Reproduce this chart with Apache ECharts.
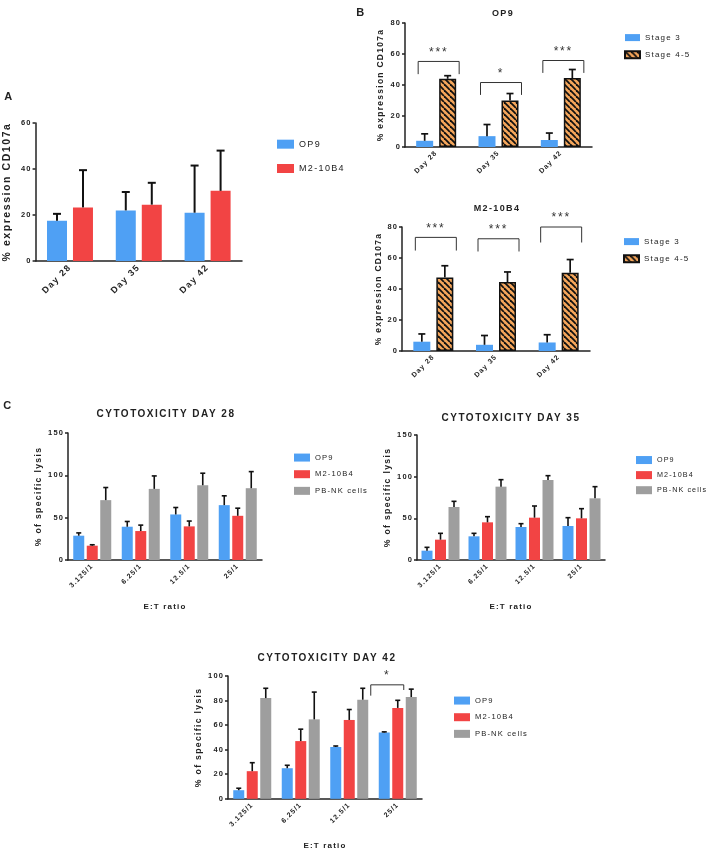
<!DOCTYPE html>
<html>
<head>
<meta charset="utf-8">
<script src="https://cdn.jsdelivr.net/npm/echarts@6/dist/echarts.min.js"></script>
<style>
  html, body { margin: 0; padding: 0; background: #fff; }
  #chart { width: 708px; height: 851px; }
</style>
</head>
<body>
<div id="chart"></div>
<script>
// --- data ---
const days = ['Day 28', 'Day 35', 'Day 42'];
const ratios = ['3.125/1', '6.25/1', '12.5/1', '25/1'];

// A: % expression CD107a
const aOp9 = [17.5, 22, 21];
const aOp9Err = [20.5, 30, 41.5];
const aM2 = [23.3, 24.5, 30.5];
const aM2Err = [39.5, 34, 48];

// B: OP9
const bOp9S3 = [4, 7, 4.5];
const bOp9S3Err = [8.5, 14.5, 9];
const bOp9S45 = [44, 30, 44.5];
const bOp9S45Err = [46, 34.5, 50];
const bOp9Sig = [[0, 55.2, 47, 47, '***'], [1, 41.6, 33.6, 33.6, '*'], [2, 55.8, 47.8, 47.8, '***']];

// B: M2-10B4
const bM2S3 = [6, 4, 5.5];
const bM2S3Err = [11, 10, 10.5];
const bM2S45 = [47.5, 44.5, 50.5];
const bM2S45Err = [55, 51, 59];
const bM2Sig = [[0, 73.3, 64.8, 64.8, '***'], [1, 72.4, 64.2, 64.2, '***'], [2, 80, 70, 70, '***']];

// C: cytotoxicity day 28
const c28Op9 = [28.7, 39.3, 53.8, 64.8];
const c28Op9Err = [32, 45.5, 62, 75.8];
const c28M2 = [16.9, 34.2, 39.7, 52.2];
const c28M2Err = [18, 41.2, 46, 61.2];
const c28Nk = [70.7, 84, 88.3, 84.8];
const c28NkErr = [85.6, 99.3, 102.5, 104.4];

// C: cytotoxicity day 35
const c35Op9 = [11.2, 28.4, 39.6, 40.8];
const c35Op9Err = [15.2, 32, 43.6, 50.8];
const c35M2 = [24.4, 45.2, 50.8, 50];
const c35M2Err = [32, 52, 64.8, 61.6];
const c35Nk = [63.6, 88, 96, 74];
const c35NkErr = [70.4, 96.4, 101.2, 88];

// C: cytotoxicity day 42
const c42Op9 = [7, 24.9, 42.2, 54];
const c42Op9Err = [8.6, 27.3, 43, 54.5];
const c42M2 = [22.5, 47, 64.2, 74];
const c42M2Err = [29.4, 56.7, 72.7, 80.2];
const c42Nk = [82, 64.7, 80.7, 82.9];
const c42NkErr = [90, 86.9, 90, 89.3];
const c42Sig = [[3, 92.8, 84, 88.6, '*']];

// --- Prism-like letter spacing on every canvas text ---
const fontProp = Object.getOwnPropertyDescriptor(CanvasRenderingContext2D.prototype, 'font');
Object.defineProperty(CanvasRenderingContext2D.prototype, 'font', {
  configurable: true,
  get() { return fontProp.get.call(this); },
  set(v) {
    fontProp.set.call(this, v);
    const m = /([\d.]+)px/.exec(v);
    if ('letterSpacing' in this) this.letterSpacing = m ? (parseFloat(m[1]) * 0.15).toFixed(2) + 'px' : '0px';
  }
});

const FONT = "'Liberation Sans', Arial, sans-serif";
const INK = '#222';
const BLUE = '#4FA0F4';
const RED = '#F24444';
const GRAY = '#9E9E9E';

// orange with black diagonal stripes
const hatch = document.createElement('canvas');
hatch.width = 6; hatch.height = 6;
(function () {
  const ctx = hatch.getContext('2d');
  ctx.fillStyle = '#F5A65B';
  ctx.fillRect(0, 0, 6, 6);
  ctx.strokeStyle = '#111';
  ctx.lineWidth = 1.8;
  for (const k of [-6, 0, 6]) {
    ctx.beginPath(); ctx.moveTo(k, 0); ctx.lineTo(k + 6, 6); ctx.stroke();
  }
})();
const HATCH = { image: hatch, repeat: 'repeat' };

const grids = [
  { left: 33, top: 123, width: 209, height: 138 },   // A
  { left: 405, top: 23, width: 187, height: 124 },   // B OP9
  { left: 402, top: 227, width: 188, height: 124 },  // B M2-10B4
  { left: 68, top: 433, width: 194, height: 127 },   // C day 28
  { left: 417, top: 435, width: 188, height: 125 },  // C day 35
  { left: 228, top: 676, width: 194, height: 125 }   // C day 42
];

function xAxis(gridIndex, data, fontSize, name) {
  return {
    type: 'category', gridIndex, data,
    axisLine: { lineStyle: { color: INK, width: 1.5 } },
    axisTick: { alignWithLabel: true, length: 3, lineStyle: { color: INK, width: 1.5 } },
    axisLabel: { rotate: 45, fontSize, fontWeight: 'bold', color: INK, margin: 5, fontFamily: FONT },
    name: name || '', nameLocation: 'middle', nameGap: 42,
    nameTextStyle: { fontSize: 8, fontWeight: 'bold', color: INK, fontFamily: FONT }
  };
}

function yAxis(gridIndex, max, interval, name, nameSize, nameGap) {
  return {
    type: 'value', gridIndex, min: 0, max, interval,
    axisLine: { show: true, lineStyle: { color: INK, width: 1.5 } },
    axisTick: { show: true, length: 3, lineStyle: { color: INK, width: 1.5 } },
    splitLine: { show: false },
    axisLabel: { fontSize: 7.5, fontWeight: 'bold', color: INK, margin: 4, fontFamily: FONT },
    name, nameLocation: 'middle', nameGap,
    nameTextStyle: { fontSize: nameSize, fontWeight: 'bold', color: INK, fontFamily: FONT }
  };
}

function bars(name, grid, data, color, w, gap, hatched) {
  return {
    type: 'bar', name, xAxisIndex: grid, yAxisIndex: grid, data,
    barWidth: w, barGap: (gap / w * 100) + '%',
    itemStyle: hatched ? { color: HATCH, borderColor: '#111', borderWidth: 1.5 } : { color },
    emphasis: { disabled: true }, silent: true
  };
}

function errors(grid, vals, errs, slot, nSlots, w, gap, capW, lw) {
  return {
    type: 'custom', xAxisIndex: grid, yAxisIndex: grid, z: 5, silent: true,
    data: vals.map((v, i) => [i, v, errs[i]]),
    renderItem(params, api) {
      const base = api.coord([api.value(0), api.value(1)]);
      const top = api.coord([api.value(0), api.value(2)]);
      const x = base[0] + (slot - (nSlots - 1) / 2) * (w + gap);
      const style = { stroke: '#111', lineWidth: lw };
      return {
        type: 'group', children: [
          { type: 'line', shape: { x1: x, y1: base[1], x2: x, y2: top[1] }, style },
          { type: 'line', shape: { x1: x - capW / 2, y1: top[1], x2: x + capW / 2, y2: top[1] }, style }
        ]
      };
    }
  };
}

function brackets(grid, sig, dl, dr) {
  return {
    type: 'custom', xAxisIndex: grid, yAxisIndex: grid, z: 6, silent: true,
    data: sig,
    renderItem(params, api) {
      const c = api.coord([api.value(0), api.value(1)]);
      const yl = api.coord([api.value(0), api.value(2)])[1];
      const yr = api.coord([api.value(0), api.value(3)])[1];
      const x1 = c[0] + dl, x2 = c[0] + dr;
      return {
        type: 'group', children: [
          { type: 'polyline', shape: { points: [[x1, yl], [x1, c[1]], [x2, c[1]], [x2, yr]] },
            style: { stroke: '#333', lineWidth: 1, fill: null } },
          { type: 'text', x: (x1 + x2) / 2, y: c[1] - 2,
            style: { text: sig[params.dataIndex][4], fontSize: 12, fontFamily: FONT, fill: '#333',
              align: 'center', verticalAlign: 'bottom' } }
        ]
      };
    }
  };
}

function legend(names, left, top, w, h, gap, fontSize) {
  return {
    data: names, orient: 'vertical', left, top, itemWidth: w, itemHeight: h, itemGap: gap,
    selectedMode: false, icon: 'rect',
    textStyle: { fontSize, color: INK, fontFamily: FONT, lineHeight: h }
  };
}

function label(text, x, y, size, weight) {
  return { type: 'text', x, y, silent: true,
    style: { text, fontSize: size, fontWeight: weight || 'bold', fontFamily: FONT, fill: INK,
      align: 'center', verticalAlign: 'middle' } };
}

const series = [
  // A
  bars('OP9', 0, aOp9, BLUE, 20, 6), bars('M2-10B4', 0, aM2, RED, 20, 6),
  errors(0, aOp9, aOp9Err, 0, 2, 20, 6, 8, 2), errors(0, aM2, aM2Err, 1, 2, 20, 6, 8, 2),
  // B OP9
  bars('Stage 3', 1, bOp9S3, BLUE, 17, 6), bars('Stage 4-5', 1, bOp9S45, null, 17, 6, true),
  errors(1, bOp9S3, bOp9S3Err, 0, 2, 17, 6, 7, 1.7), errors(1, bOp9S45, bOp9S45Err, 1, 2, 17, 6, 7, 1.7),
  brackets(1, bOp9Sig, -18, 23),
  // B M2-10B4
  bars('Stage 3', 2, bM2S3, BLUE, 17, 6), bars('Stage 4-5', 2, bM2S45, null, 17, 6, true),
  errors(2, bM2S3, bM2S3Err, 0, 2, 17, 6, 7, 1.7), errors(2, bM2S45, bM2S45Err, 1, 2, 17, 6, 7, 1.7),
  brackets(2, bM2Sig, -18, 23),
  // C day 28
  bars('OP9', 3, c28Op9, BLUE, 11, 2.5), bars('M2-10B4', 3, c28M2, RED, 11, 2.5), bars('PB-NK cells', 3, c28Nk, GRAY, 11, 2.5),
  errors(3, c28Op9, c28Op9Err, 0, 3, 11, 2.5, 5, 1.6), errors(3, c28M2, c28M2Err, 1, 3, 11, 2.5, 5, 1.6),
  errors(3, c28Nk, c28NkErr, 2, 3, 11, 2.5, 5, 1.6),
  // C day 35
  bars('OP9', 4, c35Op9, BLUE, 11, 2.5), bars('M2-10B4', 4, c35M2, RED, 11, 2.5), bars('PB-NK cells', 4, c35Nk, GRAY, 11, 2.5),
  errors(4, c35Op9, c35Op9Err, 0, 3, 11, 2.5, 5, 1.6), errors(4, c35M2, c35M2Err, 1, 3, 11, 2.5, 5, 1.6),
  errors(4, c35Nk, c35NkErr, 2, 3, 11, 2.5, 5, 1.6),
  // C day 42
  bars('OP9', 5, c42Op9, BLUE, 11, 2.5), bars('M2-10B4', 5, c42M2, RED, 11, 2.5), bars('PB-NK cells', 5, c42Nk, GRAY, 11, 2.5),
  errors(5, c42Op9, c42Op9Err, 0, 3, 11, 2.5, 5, 1.6), errors(5, c42M2, c42M2Err, 1, 3, 11, 2.5, 5, 1.6),
  errors(5, c42Nk, c42NkErr, 2, 3, 11, 2.5, 5, 1.6),
  brackets(5, c42Sig, -27, 6)
];

const chart = echarts.init(document.getElementById('chart'), null, { renderer: 'canvas' });
chart.setOption({
  animation: false,
  backgroundColor: '#fff',
  grid: grids,
  xAxis: [
    xAxis(0, days, 9), xAxis(1, days, 7), xAxis(2, days, 7),
    xAxis(3, ratios, 7, 'E:T ratio'), xAxis(4, ratios, 7, 'E:T ratio'), xAxis(5, ratios, 7, 'E:T ratio')
  ],
  yAxis: [
    yAxis(0, 60, 20, '% expression CD107a', 10.5, 22),
    yAxis(1, 80, 20, '% expression CD107a', 8.5, 19),
    yAxis(2, 80, 20, '% expression CD107a', 8.5, 18),
    yAxis(3, 150, 50, '% of specific lysis', 8.7, 21.5),
    yAxis(4, 150, 50, '% of specific lysis', 8.7, 20.5),
    yAxis(5, 100, 20, '% of specific lysis', 8.7, 20.5)
  ],
  legend: [
    legend(['OP9', 'M2-10B4'], 272, 134, 17, 9, 14, 9),
    legend(['Stage 3', 'Stage 4-5'], 619, 28, 15, 7, 8, 8),
    legend(['Stage 3', 'Stage 4-5'], 618, 232, 15, 7, 8, 8),
    legend(['OP9', 'M2-10B4', 'PB-NK cells'], 289, 448, 16, 8, 7.5, 7.6),
    legend(['OP9', 'M2-10B4', 'PB-NK cells'], 631, 451, 16, 8, 7, 7.2),
    legend(['OP9', 'M2-10B4', 'PB-NK cells'], 449, 691, 16, 8, 7.5, 7.6)
  ],
  graphic: [
    label('A', 9, 97, 11), label('B', 361, 13, 11), label('C', 8, 406, 11),
    label('OP9', 503, 14, 9), label('M2-10B4', 497, 209, 9),
    label('CYTOTOXICITY DAY 28', 166, 414, 10),
    label('CYTOTOXICITY DAY 35', 511, 418, 10),
    label('CYTOTOXICITY DAY 42', 327, 658, 10)
  ],
  series
});
</script>
</body>
</html>
